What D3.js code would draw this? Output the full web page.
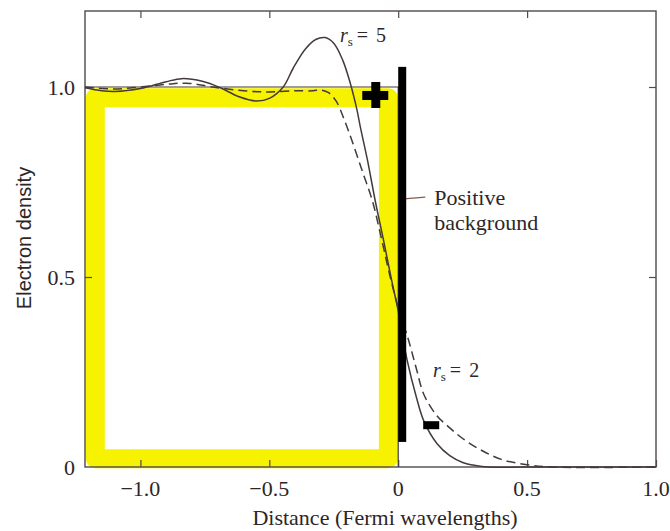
<!DOCTYPE html>
<html><head><meta charset="utf-8">
<script src="https://cdn.jsdelivr.net/npm/d3@7"></script>
<style>
html,body{margin:0;padding:0;background:#fff;}
svg{display:block;}
text{font-family:"Liberation Serif","DejaVu Serif",serif;fill:#2e2626;}
</style></head>
<body><svg id="c" width="670" height="531"></svg>
<script>
// ---- data ----
const xTicks = [-1.0, -0.5, 0, 0.5, 1.0];
const xTickLabels = ["\u22121.0", "\u22120.5", "0", "0.5", "1.0"];
const yTicks = [0, 0.5, 1.0];
const yTickLabels = ["0", "0.5", "1.0"];
const rs5 = [[-1.215,0.998],[-1.15,0.99],[-1.1,0.988],[-1.0,0.996],[-0.9,1.014],[-0.84,1.022],[-0.76,1.015],[-0.69,0.998],[-0.62,0.975],[-0.55,0.963],[-0.5,0.97],[-0.446,1.0],[-0.407,1.05],[-0.36,1.1],[-0.32,1.125],[-0.283,1.13],[-0.25,1.115],[-0.215,1.07],[-0.186,1.01],[-0.16,0.94],[-0.147,0.895],[-0.12,0.81],[-0.089,0.7],[-0.058,0.6],[-0.025,0.49],[0.0,0.41],[0.035,0.28],[0.07,0.185],[0.1,0.12],[0.15,0.062],[0.2,0.03],[0.25,0.012],[0.3,0.004],[0.35,0.0],[0.5,0.0],[1.0,0.0]];
const rs2 = [[-1.215,1.0],[-1.1,0.995],[-1.0,1.0],[-0.9,1.007],[-0.82,1.01],[-0.72,1.0],[-0.6,0.99],[-0.5,0.987],[-0.4,0.99],[-0.33,0.99],[-0.3,0.992],[-0.27,0.985],[-0.24,0.962],[-0.21,0.915],[-0.18,0.86],[-0.14,0.78],[-0.1,0.70],[-0.07,0.616],[-0.031,0.5],[0.0,0.42],[0.04,0.334],[0.07,0.26],[0.1,0.19],[0.15,0.135],[0.2,0.103],[0.25,0.075],[0.32,0.045],[0.4,0.02],[0.5,0.006],[0.6,0.0],[1.0,0.0]];
const background = [[-1.215,1.0],[0,1.0],[0,0]];
// hand-drawn annotations (data units)
const yellowBox = {x0:-1.175, x1:-0.038, y0:0.022, y1:0.972};
const blackBar = {x:0.0155, y0:0.066, y1:1.053};
const plusMark = {x:-0.089, y:0.979};
const minusMark = {x:0.128, y:0.11};

// ---- scales ----
const svg = d3.select("#c");
const x = d3.scaleLinear().domain([-1.215, 1.0]).range([85, 656]);
const y = d3.scaleLinear().domain([0, 1.2]).range([467, 11]);
const ink = "#443a3a";

// yellow highlighter
svg.append("rect")
  .attr("x", x(yellowBox.x0)).attr("y", y(yellowBox.y1))
  .attr("width", x(yellowBox.x1)-x(yellowBox.x0))
  .attr("height", y(yellowBox.y0)-y(yellowBox.y1))
  .attr("fill","none").attr("stroke","#f7f200").attr("stroke-width",19)
  .attr("stroke-linejoin","round");

// frame
svg.append("rect").attr("x", x(-1.215)).attr("y", y(1.2))
  .attr("width", x(1.0)-x(-1.215)).attr("height", y(0)-y(1.2))
  .attr("fill","none").attr("stroke","#524a4a").attr("stroke-width",1.4);

// axes with inward ticks
const axB = d3.axisBottom(x).tickValues(xTicks).tickSize(-7).tickFormat("");
const axT = d3.axisTop(x).tickValues([-1.0,-0.5,0,0.5]).tickSize(-7).tickFormat("");
const axL = d3.axisLeft(y).tickValues([0.5,1.0]).tickSize(-7).tickFormat("");
const axR = d3.axisRight(y).tickValues([0.5,1.0]).tickSize(-7).tickFormat("");
[[axB,`translate(0,${y(0)})`],[axT,`translate(0,${y(1.2)})`],[axL,`translate(${x(-1.215)},0)`],[axR,`translate(${x(1.0)},0)`]].forEach(([a,t])=>{
  const g = svg.append("g").attr("transform",t).call(a);
  g.select(".domain").remove();
  g.selectAll("line").attr("stroke","#524a4a").attr("stroke-width",1.2);
});

// tick labels
svg.append("g").selectAll("text").data(xTicks).join("text")
  .attr("x", d=>x(d)).attr("y", y(0)+29).attr("text-anchor","middle")
  .attr("font-size",22).text((d,i)=>xTickLabels[i]);
svg.append("g").selectAll("text").data(yTicks).join("text")
  .attr("x", x(-1.215)-10).attr("y", d=>y(d)+8).attr("text-anchor","end")
  .attr("font-size",22).text((d,i)=>yTickLabels[i]);

// axis titles
svg.append("text").attr("x", 385).attr("y", 525).attr("text-anchor","middle")
  .attr("font-size",22).text("Distance (Fermi wavelengths)");
svg.append("text").attr("transform","translate(31,238) rotate(-90)")
  .attr("text-anchor","middle").attr("font-size",20)
  .style("font-family","'Liberation Sans',Arial,sans-serif").text("Electron density");

// curves
const line = d3.line().x(d=>x(d[0])).y(d=>y(d[1])).curve(d3.curveCatmullRom.alpha(0.5));
svg.append("path").datum(background).attr("d", d3.line().x(d=>x(d[0])).y(d=>y(d[1])))
  .attr("fill","none").attr("stroke",ink).attr("stroke-width",1.2);
svg.append("path").datum(rs2).attr("d", line)
  .attr("fill","none").attr("stroke",ink).attr("stroke-width",1.5).attr("stroke-dasharray","9,5");
svg.append("path").datum(rs5).attr("d", line)
  .attr("fill","none").attr("stroke",ink).attr("stroke-width",1.5);

// curve labels
function rsLabel(px, py, val){
  const t = svg.append("text").attr("x",px).attr("y",py).attr("font-size",20);
  t.append("tspan").attr("font-style","italic").text("r");
  t.append("tspan").attr("font-size",13).attr("dy",4).text("s");
  t.append("tspan").attr("dy",-4).attr("dx",4).text("=");
  t.append("tspan").attr("dx",8).text(val);
}
rsLabel(x(-0.226), 42, "5");
rsLabel(x(0.135), 377, "2");

// positive background label + leader
svg.append("line").attr("x1", x(0.01)).attr("x2", x(0.105))
  .attr("y1", y(0.705)).attr("y2", y(0.71)).attr("stroke","#8a5a4e").attr("stroke-width",1.3);
svg.append("text").attr("x", x(0.14)).attr("y", 205).attr("font-size",22).text("Positive");
svg.append("text").attr("x", x(0.14)).attr("y", 230).attr("font-size",22).text("background");

// black hand annotations
svg.append("rect").attr("x", x(blackBar.x)-4).attr("y", y(blackBar.y1))
  .attr("width",8).attr("height", y(blackBar.y0)-y(blackBar.y1)).attr("fill","#000");
svg.append("rect").attr("x", x(plusMark.x)-13).attr("y", y(plusMark.y)-4)
  .attr("width",26).attr("height",9).attr("fill","#000");
svg.append("rect").attr("x", x(plusMark.x)-4).attr("y", y(plusMark.y)-13)
  .attr("width",9).attr("height",26).attr("fill","#000");
svg.append("rect").attr("x", x(minusMark.x)-8).attr("y", y(minusMark.y)-4)
  .attr("width",16).attr("height",8).attr("fill","#000");
</script></body></html>
